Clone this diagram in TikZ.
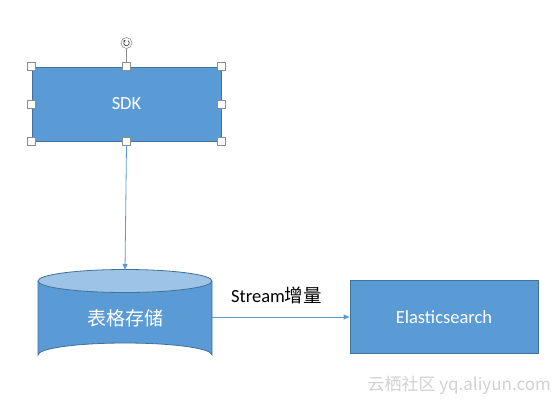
\documentclass[tikz,border=0pt]{standalone}
\usepackage{fontspec}
\setmainfont{Carlito}
\newfontfamily\cjk{Noto Sans CJK SC}
\usetikzlibrary{arrows.meta}
\definecolor{boxblue}{HTML}{5B9BD5}
\definecolor{boxedge}{HTML}{41719C}
\definecolor{toplight}{HTML}{9DC3E6}
\definecolor{handlegray}{HTML}{8C8C8C}
\begin{document}
\begin{tikzpicture}[x=1pt,y=-1pt,
  bluebox/.style={draw=boxedge,fill=boxblue,line width=0.8pt,inner sep=0pt},
  handle/.style={draw=handlegray,fill=white,line width=0.6pt,minimum size=8pt,inner sep=0pt},
  conn/.style={draw=boxblue,line width=0.8pt,-{Triangle[length=6pt,width=5pt]}},
  whitetxt/.style={text=white,font=\fontsize{18.5}{20}\selectfont}
]
\useasboundingbox (0,0) rectangle (560,400);
\fill[white] (0,0) rectangle (560,400);

% SDK box
\node[bluebox,minimum width=189pt,minimum height=74pt,whitetxt] (sdk) at (126.5,104) {SDK};

% rotation handle
\node[circle,draw=handlegray,fill=white,line width=0.6pt,minimum size=11pt,inner sep=0pt] (rot) at (126.5,43) {};
\draw[handlegray,line width=0.6pt] (rot.south) -- (sdk.north);
\draw[black!75,line width=0.7pt,-{Stealth[length=2pt,width=2.5pt]}] ([shift={(60:2.8pt)}]rot.center) arc[start angle=60,end angle=-250,radius=2.8pt];

% selection handles
\node[handle] (h1) at (sdk.north west) {};
\node[handle] (h2) at (sdk.north) {};
\node[handle] (h3) at (sdk.north east) {};
\node[handle] (h4) at (sdk.west) {};
\node[handle] (h5) at (sdk.east) {};
\node[handle] (h6) at (sdk.south west) {};
\node[handle] (h7) at (sdk.south) {};
\node[handle] (h8) at (sdk.south east) {};

% cylinder
\draw[boxedge,fill=boxblue,line width=0.8pt] (38,281) -- (38,355) arc[start angle=180,end angle=360,x radius=87,y radius=12] -- (212,281);
\draw[boxedge,fill=toplight,line width=0.8pt] (125,281) ellipse[x radius=87,y radius=11.5];
\node[minimum width=174pt,minimum height=97pt,inner sep=0pt,text=white,font=\cjk\fontsize{19}{21}\selectfont] (store) at (125,318.5) {表格存储};

% Elasticsearch box
\node[bluebox,minimum width=188pt,minimum height=73pt,whitetxt] (es) at (444,317) {Elasticsearch};

% connectors
\draw[conn] (h7.south) -- (store.north);
\draw[conn] (store.east |- 0,317) -- (es.west);
\node[font=\fontsize{18.5}{20}\selectfont,text=black,anchor=west,inner sep=0pt] (lbl) at (231,295) {Stream{\cjk 增量}};

% watermark
\node[font=\cjk\fontsize{17}{19}\selectfont,text=black!18,anchor=east,inner sep=0pt] (wm) at (551,385) {云栖社区 yq.aliyun.com};
\end{tikzpicture}
\end{document}
